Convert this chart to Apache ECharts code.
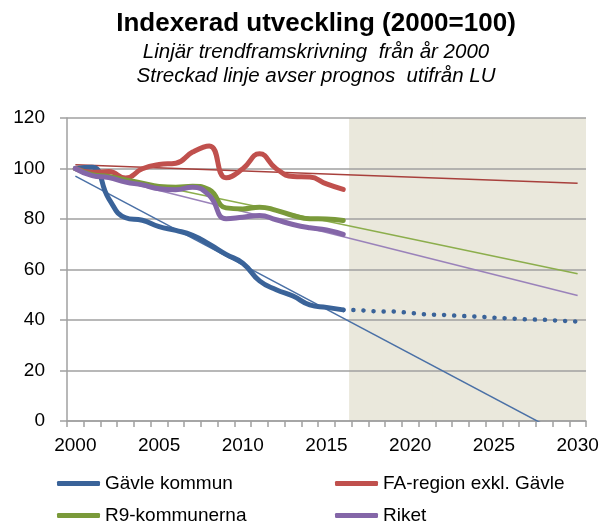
<!DOCTYPE html>
<html>
<head>
<meta charset="utf-8">
<script src="https://cdn.jsdelivr.net/npm/echarts@6/dist/echarts.min.js"></script>
<style>
  html, body { margin: 0; padding: 0; background: #fff; }
  #chart { width: 603px; height: 525px; }
</style>
</head>
<body>
<div id="chart"></div>
<script>
// år 2000 - 2030
const years = []
for (let y = 2000; y <= 2030; y++) years.push(String(y))

// utfall 2000-2016 (index, 2000=100)
const gavle = [100, 100.5, 88, 80.5, 79.5, 77, 75.5, 73.5, 70, 66, 62.5, 55.5, 52, 49.5, 46, 45, 44]
const faRegion = [100, 98.5, 98.8, 96.2, 99.9, 101.6, 102.1, 106.5, 108.9, 96.3, 99.9, 105.8, 99.9, 96.8, 96.6, 93.9, 91.7]
const r9 = [100, 97.6, 96.8, 95.5, 94.2, 92.9, 92.6, 93, 91.6, 84.4, 84, 84.7, 83.4, 81.4, 80.1, 80, 79.4]
const riket = [100, 97.2, 96.4, 94.6, 93.5, 92, 91.6, 92.6, 89.3, 80.1, 80.7, 81.4, 79.7, 77.8, 76.5, 75.7, 73.9]

// prognos Gävle 2016-2030 (LU)
const gavlePrognos = [44, 43.9, 43.4, 43.4, 42.8, 42.2, 42, 41.6, 41.4, 40.9, 40.6, 40.2, 40.1, 39.7, 39.4]

// linjära trender: värde år 2000 och år 2030
const trendGavle = [97, -8.5]
const trendFa = [101.5, 94.2]
const trendR9 = [100, 58.3]
const trendRiket = [99.6, 49.7]

// prognosperiod (skuggad yta) 2017-2030
const prognosStart = 2017
const yMax = 120

function pad(arr, start) {
  const out = years.map(() => null)
  arr.forEach((v, i) => { out[start + i] = v })
  return out
}
function trend(ends) {
  const out = years.map(() => null)
  out[0] = ends[0]
  out[years.length - 1] = ends[1]
  return out
}

const shade = years.map(y => (Number(y) >= prognosStart ? yMax : null))

const cBlue = '#3A6399'
const cRed = '#C0504D'
const cGreen = '#7A9A3A'
const cPurple = '#8466A8'
const font = '"Liberation Sans", Arial, sans-serif'

function mainLine(name, data, color) {
  return {
    name: name,
    type: 'line',
    data: pad(data, 0),
    smooth: 0.5,
    symbol: 'none',
    z: 5,
    lineStyle: { color: color, width: 5, cap: 'round', join: 'round' },
    itemStyle: { color: color }
  }
}
function trendLine(name, ends, color) {
  return {
    name: name,
    type: 'line',
    data: trend(ends),
    connectNulls: true,
    symbol: 'none',
    z: 4,
    lineStyle: { color: color, width: 1.5 },
    itemStyle: { color: color }
  }
}

// två legendkolumner
const legendBase = {
  orient: 'vertical',
  top: 474,
  height: 120,
  padding: 0,
  itemWidth: 43,
  itemHeight: 5,
  itemGap: 13,
  icon: 'roundRect',
  textStyle: { fontFamily: font, fontSize: 19, color: '#000' }
}

const myChart = echarts.init(document.getElementById('chart'))
const option = {
  animation: false,
  textStyle: { fontFamily: font },
  title: {
    text: 'Indexerad utveckling (2000=100)',
    subtext: 'Linjär trendframskrivning  från år 2000\nStreckad linje avser prognos  utifrån LU',
    left: 311,
    textAlign: 'center',
    top: 6,
    itemGap: 3,
    textStyle: { fontFamily: font, fontSize: 26, fontWeight: 'bold', color: '#000' },
    subtextStyle: { fontFamily: font, fontSize: 20.5, fontStyle: 'italic', color: '#000', lineHeight: 24 }
  },
  legend: [
    Object.assign({}, legendBase, { left: 57, data: ['Gävle kommun', 'R9-kommunerna'] }),
    Object.assign({}, legendBase, { left: 335, data: ['FA-region exkl. Gävle', 'Riket'] })
  ],
  grid: { left: 67, right: 17, top: 118, bottom: 104 },
  xAxis: {
    type: 'category',
    data: years,
    boundaryGap: true,
    axisLine: { lineStyle: { color: '#A0A0A0', width: 1.5 } },
    axisTick: { show: true, interval: 0, length: 6, lineStyle: { color: '#A0A0A0', width: 1.5 } },
    axisLabel: { interval: 4, color: '#000', fontSize: 19, margin: 15, fontFamily: font },
    splitLine: { show: false }
  },
  yAxis: {
    type: 'value',
    min: 0,
    max: yMax,
    interval: 20,
    axisLine: { show: true, lineStyle: { color: '#A0A0A0', width: 1.5 } },
    axisTick: { show: true, length: 7, lineStyle: { color: '#A0A0A0', width: 1.5 } },
    axisLabel: { color: '#000', fontSize: 19, margin: 22, fontFamily: font },
    splitLine: { lineStyle: { color: '#A0A0A0', width: 1.5 } }
  },
  series: [
    {
      name: 'Prognosperiod',
      type: 'bar',
      data: shade,
      barWidth: '130%',
      clip: true,
      silent: true,
      z: -1,
      itemStyle: { color: '#EAE8DC' }
    },
    trendLine('Trend Gävle kommun', trendGavle, '#4A70A6'),
    trendLine('Trend FA-region', trendFa, '#A8403C'),
    trendLine('Trend R9', trendR9, '#8CAE4C'),
    trendLine('Trend Riket', trendRiket, '#9A82BA'),
    {
      name: 'Gävle kommun prognos',
      type: 'line',
      data: pad(gavlePrognos, 16),
      symbol: 'none',
      z: 5,
      lineStyle: { color: cBlue, width: 4.5, type: [0.1, 10], cap: 'round' },
      itemStyle: { color: cBlue }
    },
    mainLine('Gävle kommun', gavle, cBlue),
    mainLine('FA-region exkl. Gävle', faRegion, cRed),
    mainLine('R9-kommunerna', r9, cGreen),
    mainLine('Riket', riket, cPurple)
  ]
}
myChart.setOption(option)
window.addEventListener('resize', function() {
  myChart.resize()
})
</script>
</body>
</html>
